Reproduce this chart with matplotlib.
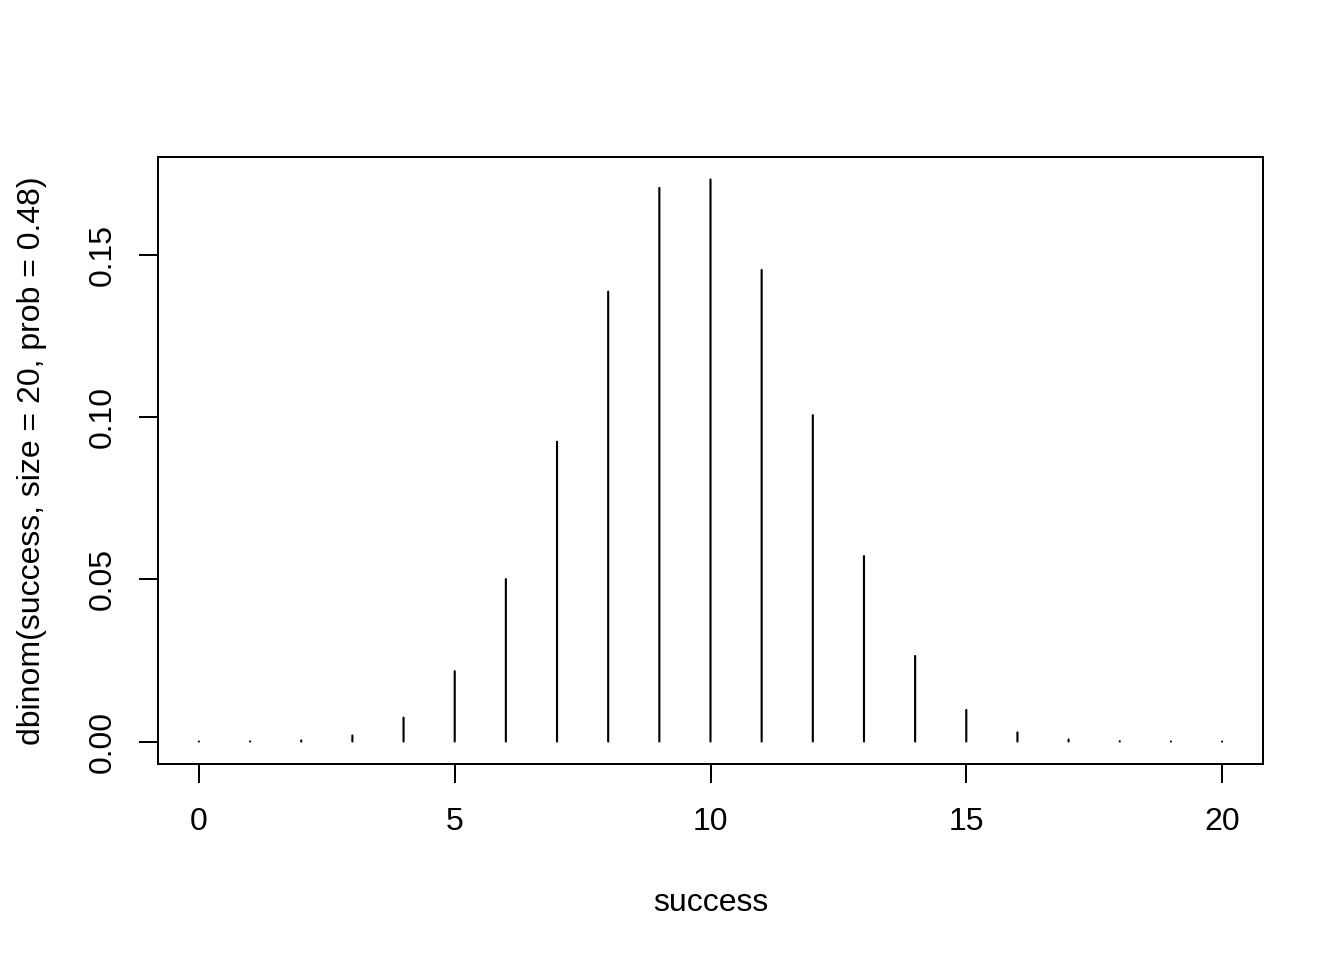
import matplotlib
matplotlib.use("Agg")
import matplotlib.pyplot as plt

# values (success 0..20)
success = list(range(21))
density = [0.0000021, 0.0000386, 0.000338, 0.00187, 0.00735, 0.0217, 0.0501,
           0.0925, 0.1388, 0.1708, 0.1734, 0.1455, 0.1007, 0.0572, 0.0264,
           0.00975, 0.00281, 0.000611, 0.000094, 0.0000091, 0.0000004]
xticks = [0, 5, 10, 15, 20]
yticks = [0.00, 0.05, 0.10, 0.15]

plt.rcParams['font.family'] = ['Liberation Sans', 'DejaVu Sans']
plt.rcParams['font.size'] = 12

fig = plt.figure(figsize=(7, 5), dpi=192)
ax = fig.add_axes([158 / 1344, 1 - 764 / 960, (1263 - 158) / 1344, (764 - 157) / 960])

ax.vlines(success, 0, density, colors='black', linewidth=0.8, capstyle='round', snap=False)

ax.set_xlim(-0.8, 20.8)
ax.set_ylim(-0.00694, 0.18034)
ax.set_xticks(xticks)
ax.set_xticklabels([str(t) for t in xticks])
ax.set_yticks(yticks)
ax.set_yticklabels(['%.2f' % t for t in yticks], rotation=90, va='center')

for s in ax.spines.values():
    s.set_linewidth(0.75)
ax.tick_params(length=7.2, width=0.75, pad=9, labelsize=12)
ax.tick_params(axis='y', pad=8)

ax.set_xlabel('success', fontsize=12, labelpad=19)
ax.set_ylabel('dbinom(success, size = 20, prob = 0.48)', fontsize=12, labelpad=15)

fig.savefig('out.png', dpi=192, facecolor='white')
